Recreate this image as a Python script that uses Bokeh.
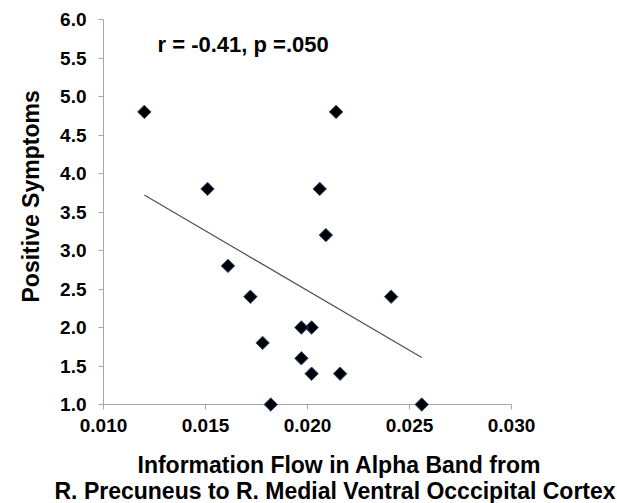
import math
from bokeh.plotting import figure
from bokeh.models import Range1d, FixedTicker, NumeralTickFormatter, Label, Title
from bokeh.embed import file_html
from bokeh.resources import INLINE

# Data
info_flow = [0.0120, 0.0151, 0.0214, 0.0206, 0.0209, 0.0241, 0.0202, 0.0197,
             0.0161, 0.0172, 0.0178, 0.0197, 0.0202, 0.0216, 0.0182, 0.0256]
positive_symptoms = [4.8, 3.8, 4.8, 3.8, 3.2, 2.4, 2.0, 2.0,
                     2.8, 2.4, 1.8, 1.6, 1.4, 1.4, 1.0, 1.0]
trend_x = [0.0120, 0.0256]
trend_y = [3.72, 1.61]
x_ticks = [0.010, 0.015, 0.020, 0.025, 0.030]
y_ticks = [1.0, 1.5, 2.0, 2.5, 3.0, 3.5, 4.0, 4.5, 5.0, 5.5, 6.0]
annotation = "r = -0.41, p =.050"
x_label_lines = ["Information Flow in Alpha Band from",
                 "R. Precuneus to R. Medial Ventral Occcipital Cortex"]
y_label = "Positive Symptoms"

FONT = "Liberation Sans"
AXIS_COLOR = "#a6a6a6"

p = figure(width=617, height=503, output_backend="svg", toolbar_location=None,
           x_range=Range1d(x_ticks[0], x_ticks[-1]),
           y_range=Range1d(y_ticks[0], y_ticks[-1]),
           min_border_left=103, min_border_right=106,
           min_border_top=19, min_border_bottom=99)
p.outline_line_color = None
p.xgrid.visible = False
p.ygrid.visible = False

p.line(trend_x, trend_y, line_color="#505050", line_width=1.2)
p.scatter(info_flow, positive_symptoms, marker="square", angle=math.pi / 4,
          size=9.5, fill_color="black", line_color="#2a4f8f", line_width=1,
          level="overlay")

for ax, ticks, fmt in ((p.xaxis[0], x_ticks, "0.000"), (p.yaxis[0], y_ticks, "0.0")):
    ax.ticker = FixedTicker(ticks=ticks)
    ax.formatter = NumeralTickFormatter(format=fmt)
    ax.axis_line_color = AXIS_COLOR
    ax.major_tick_line_color = AXIS_COLOR
    ax.minor_tick_line_color = None
    ax.major_tick_in = 0
    ax.major_tick_out = 5
    ax.major_label_text_font = FONT
    ax.major_label_text_font_style = "bold"
    ax.major_label_text_font_size = "19px"
    ax.major_label_text_color = "black"

p.xaxis[0].major_label_standoff = 9
p.yaxis[0].major_label_standoff = 12

p.add_layout(Label(x=0.01265, y=5.675, text=annotation, text_font=FONT,
                   text_font_style="bold", text_font_size="22px",
                   text_color="black", text_baseline="middle"))

def make_title(text, standoff, offset, vertical_align="bottom"):
    return Title(text=text, text_font=FONT, text_font_style="bold",
                 text_font_size="23px", text_color="black", align="left",
                 vertical_align=vertical_align, standoff=standoff, offset=offset)

p.add_layout(make_title(x_label_lines[0], 30, 34), "below")
p.add_layout(make_title(x_label_lines[1], -30, -49, vertical_align="top"), "below")
p.add_layout(make_title(y_label, 28, 102), "left")

open("out.html", "w").write(file_html(p, INLINE))
